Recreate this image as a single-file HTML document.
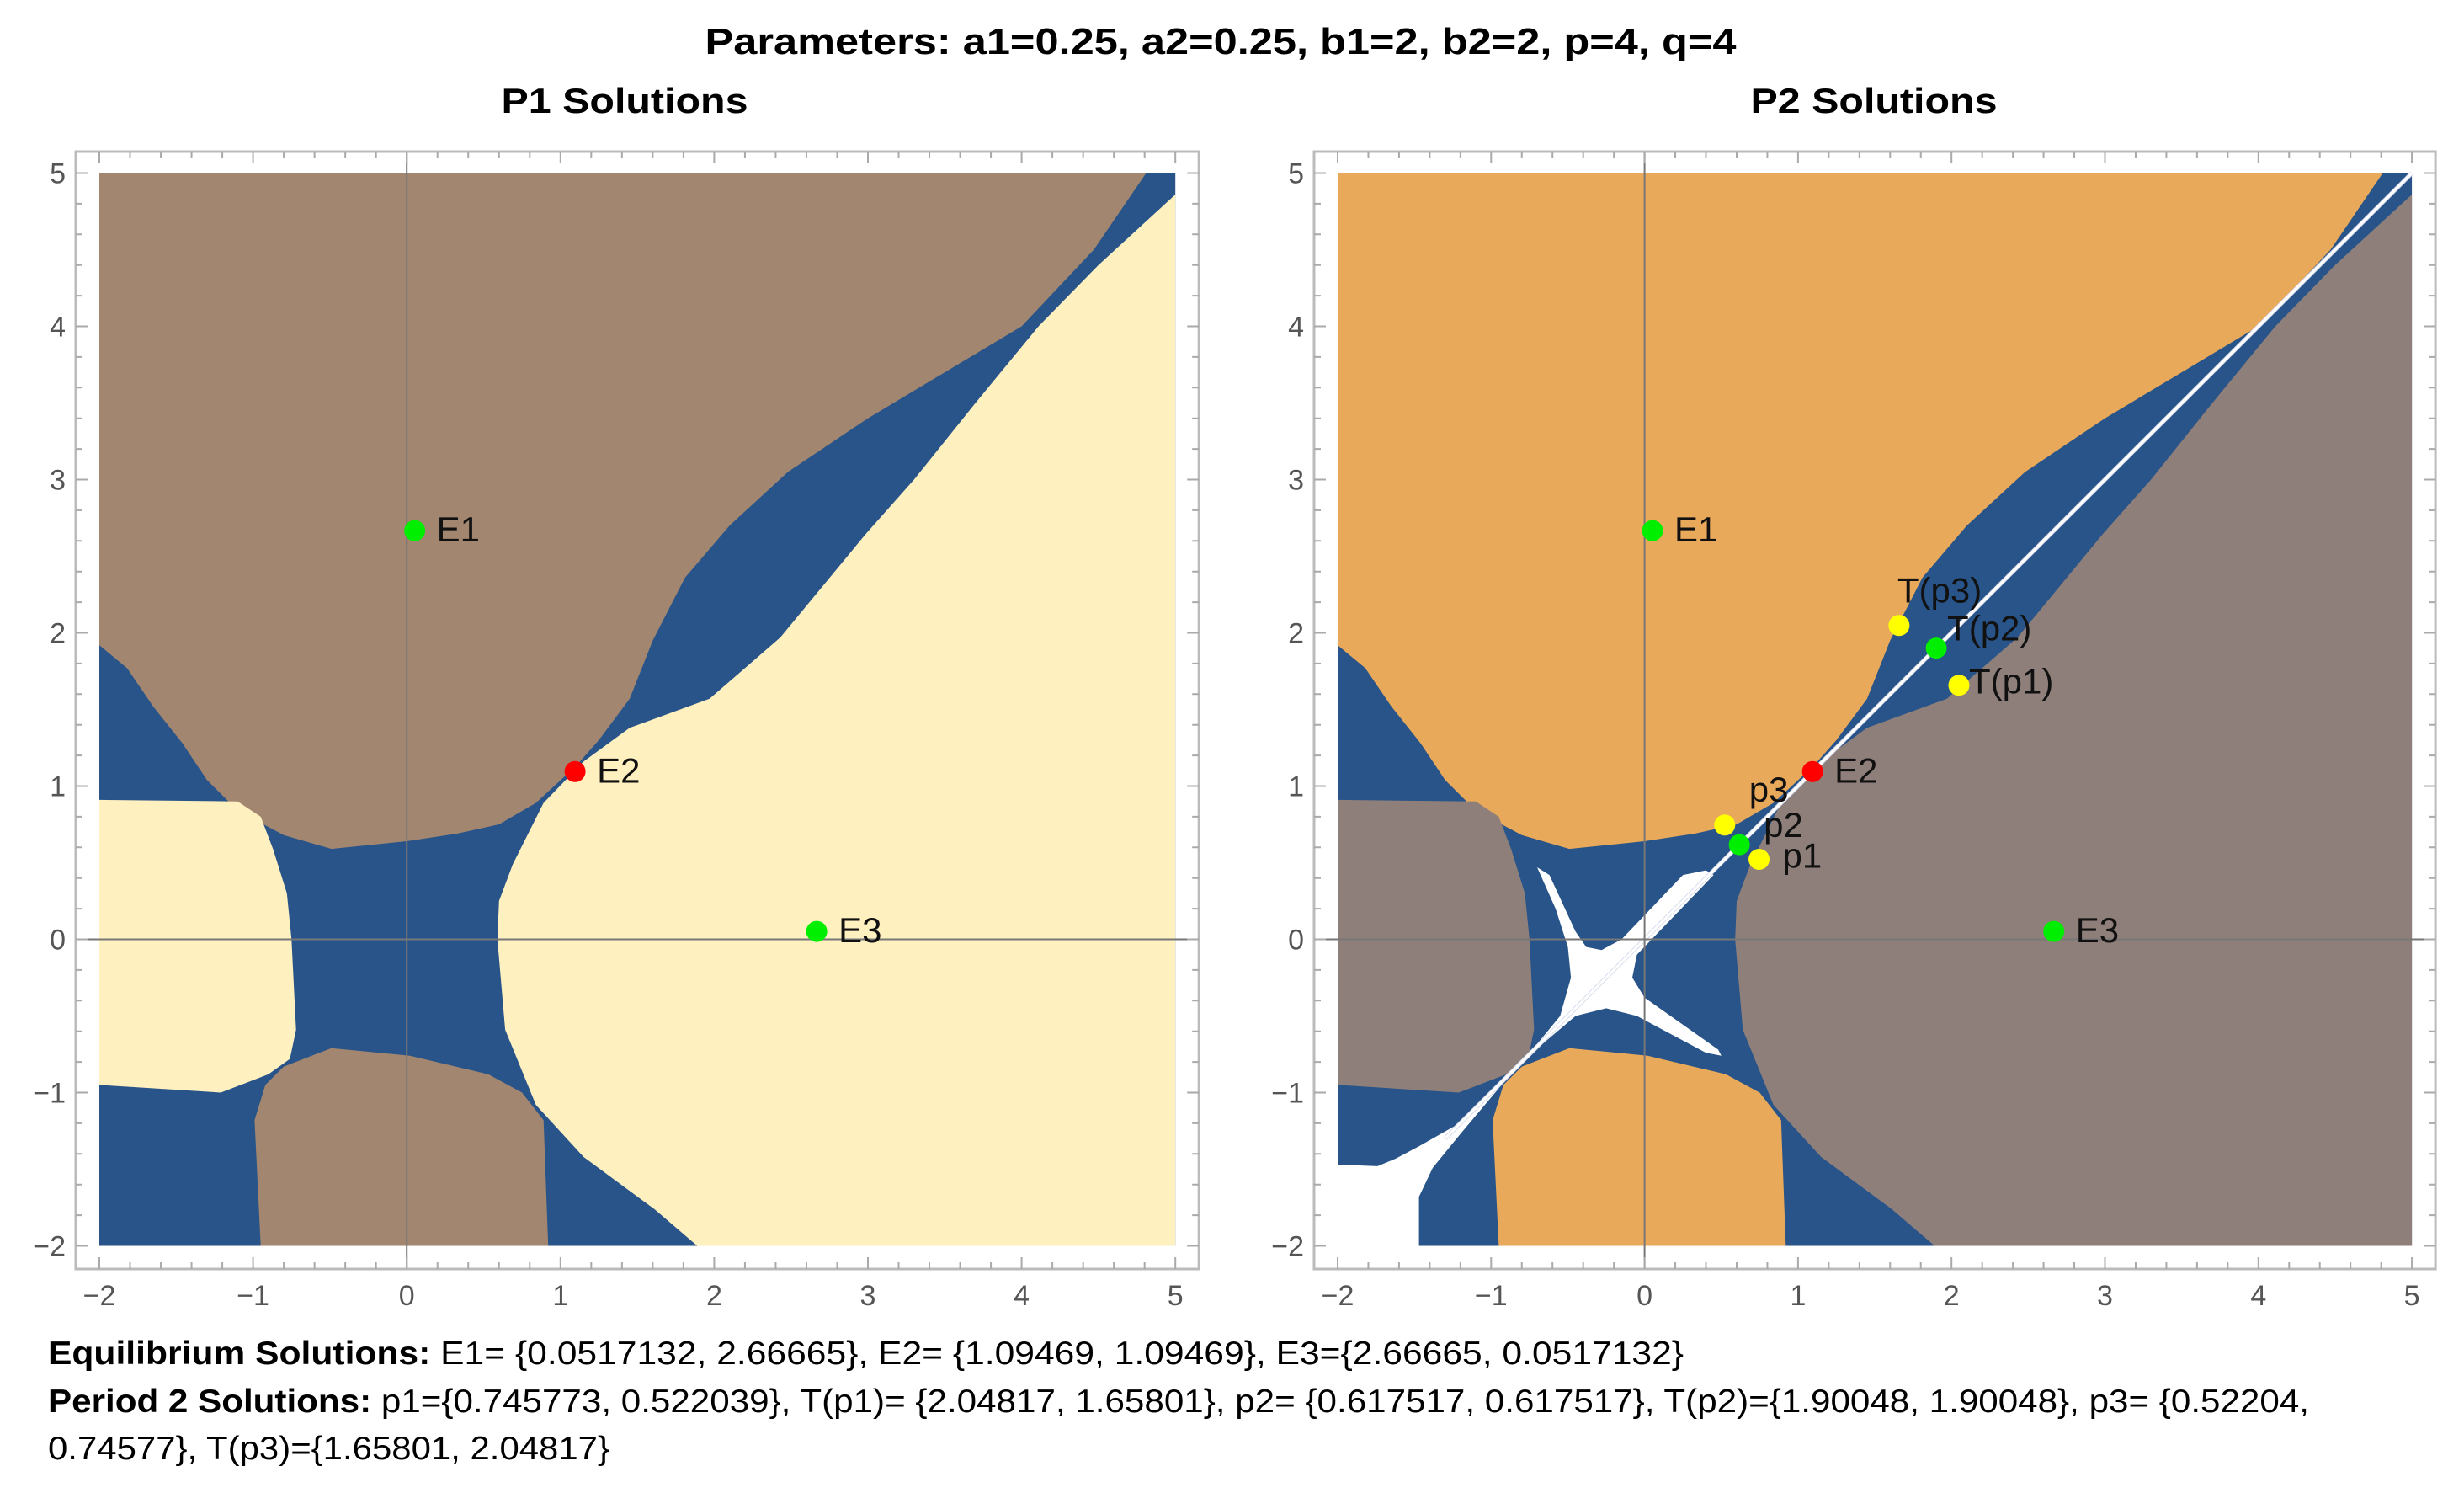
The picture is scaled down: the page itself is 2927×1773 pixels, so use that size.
<!DOCTYPE html>
<html><head><meta charset="utf-8">
<style>
html,body{margin:0;padding:0;background:#fff;}
svg{display:block;font-family:"Liberation Sans",sans-serif;}
</style></head>
<body>
<svg id="root" width="2927" height="1773" viewBox="0 0 2927 1773" xmlns="http://www.w3.org/2000/svg">
<rect width="2927" height="1773" fill="#fff"/>
<text x="1450" y="64" text-anchor="middle" font-size="44" font-weight="bold" textLength="1225" lengthAdjust="spacingAndGlyphs">Parameters: a1=0.25, a2=0.25, b1=2, b2=2, p=4, q=4</text>
<text x="742" y="134" text-anchor="middle" font-size="42" font-weight="bold" textLength="293" lengthAdjust="spacingAndGlyphs">P1 Solutions</text>
<text x="2226" y="134" text-anchor="middle" font-size="42" font-weight="bold" textLength="293" lengthAdjust="spacingAndGlyphs">P2 Solutions</text>
<g id="left"></g>
<g id="right"></g>
<text x="57" y="1620" font-size="39" textLength="1943" lengthAdjust="spacingAndGlyphs"><tspan font-weight="bold">Equilibrium Solutions:</tspan> E1= {0.0517132, 2.66665}, E2= {1.09469, 1.09469}, E3={2.66665, 0.0517132}</text>
<text x="57" y="1677" font-size="39" textLength="2686" lengthAdjust="spacingAndGlyphs"><tspan font-weight="bold">Period 2 Solutions:</tspan> p1={0.745773, 0.522039}, T(p1)= {2.04817, 1.65801}, p2= {0.617517, 0.617517}, T(p2)={1.90048, 1.90048}, p3= {0.52204,</text>
<text x="57" y="1733" font-size="39" textLength="667" lengthAdjust="spacingAndGlyphs">0.74577}, T(p3)={1.65801, 2.04817}</text>
</svg>
<script>
// equilibrium points
const eqNames = ["E1","E2","E3"];
const eqX = [0.0517132, 1.09469, 2.66665];
const eqY = [2.66665, 1.09469, 0.0517132];
const eqColors = ["#00ee00","#ff0000","#00ee00"];
// period-2 points
const perNames = ["p1","T(p1)","p2","T(p2)","p3","T(p3)"];
const perX = [0.745773, 2.04817, 0.617517, 1.90048, 0.52204, 1.65801];
const perY = [0.522039, 1.65801, 0.617517, 1.90048, 0.74577, 2.04817];
const perColors = ["#ffff00","#ffff00","#00ee00","#00ee00","#ffff00","#ffff00"];
const xTicks = [-2,-1,0,1,2,3,4,5];
const yTicks = [-2,-1,0,1,2,3,4,5];
// basin boundaries (data coords)
const upperX = [-2,-2,4.81,4.47,4.0,3.5,3.0,2.48,2.1,1.81,1.6,1.45,1.25,1.1,0.84,0.6,0.33,0.0,-0.49,-0.8,-1.1,-1.3,-1.46,-1.65,-1.82,-2];
const upperY = [1.92,5,5,4.5,4.0,3.7,3.4,3.05,2.7,2.36,1.95,1.57,1.3,1.13,0.89,0.75,0.69,0.64,0.59,0.68,0.84,1.04,1.28,1.52,1.77,1.92];
const rightX = [5,5,1.89,1.61,1.15,0.84,0.64,0.59,0.6,0.69,0.89,1.15,1.45,1.97,2.43,2.99,3.3,3.7,4.11,4.5,5];
const rightY = [4.86,-2,-2,-1.76,-1.42,-1.08,-0.59,0.0,0.25,0.49,0.89,1.16,1.38,1.57,1.97,2.65,3.0,3.5,4.0,4.4,4.86];
const leftX = [-2,-1.1,-0.95,-0.87,-0.78,-0.75,-0.72,-0.76,-0.9,-1.21,-2];
const leftY = [0.91,0.9,0.8,0.59,0.3,0,-0.59,-0.78,-0.88,-1.0,-0.95];
const bottomX = [-0.95,-0.99,-0.92,-0.8,-0.49,0.02,0.53,0.75,0.89,0.92];
const bottomY = [-2,-1.18,-0.95,-0.83,-0.71,-0.76,-0.88,-1.0,-1.18,-2];
const cornerX = [-2,-1.74,-1.62,-1.47,-1.24,-0.78,-1.2,-1.38,-1.47,-1.47,-2];
const cornerY = [-1.47,-1.48,-1.43,-1.35,-1.22,-0.77,-1.27,-1.49,-1.68,-2,-2];
const crossX = [-0.70,-0.62,-0.45,-0.38,-0.28,-0.15,0.25,0.40,0.45,-0.05,-0.08,0.0,0.48,0.50,0.40,-0.05,-0.25,-0.45,-0.78,-0.55,-0.48,-0.50,-0.58];
const crossY = [0.47,0.42,0.05,-0.05,-0.07,0.0,0.42,0.45,0.42,-0.10,-0.25,-0.38,-0.72,-0.76,-0.74,-0.50,-0.45,-0.50,-0.78,-0.50,-0.25,-0.05,0.20];

const NS = "http://www.w3.org/2000/svg";
function mk(tag, attrs, parent){const e=document.createElementNS(NS,tag);for(const k in attrs)e.setAttribute(k,attrs[k]);parent.appendChild(e);return e;}

function drawPlot(g, X0, ux, colors, isP2){
  const Y0 = 205.5, uy = 182;
  const sx = v => X0 + (v+2)*ux;
  const sy = v => Y0 + (5-v)*uy;
  const poly = (xs, ys) => xs.map((v,i)=>(i?"L":"M")+sx(v).toFixed(1)+","+sy(ys[i]).toFixed(1)).join("")+"Z";
  const fx = X0 - 28, fr = sx(5) + 28, ft = 180, fb = 1507;
  const bg = mk("rect",{x:sx(-2),y:sy(5),width:sx(5)-sx(-2),height:sy(-2)-sy(5),fill:"#285489"},g);
  
  
  const regs = [[upperX,upperY,colors[0],'basin-upper'],[rightX,rightY,colors[1],'basin-right'],[leftX,leftY,colors[1],'basin-left'],[bottomX,bottomY,colors[0],'basin-bottom']];
  regs.forEach(r=>{
    const p = mk("path",{d:poly(r[0],r[1]),fill:r[2],"stroke-linejoin":"round"},g);
    
    
  });
  if(isP2){
    const c = mk("path",{d:poly(cornerX,cornerY),fill:"#fff"},g);
    
    
    const x = mk("path",{d:poly(crossX,crossY),fill:"#fff"},g);
    
    
    const d = mk("line",{x1:sx(-1.3),y1:sy(-1.3),x2:sx(5),y2:sy(5),stroke:"#d8dcec","stroke-width":5},g);
    
    
    const d2 = mk("line",{x1:sx(-1.3),y1:sy(-1.3),x2:sx(5),y2:sy(5),stroke:"#fff","stroke-width":3},g);
    
    
  }
  const ax = mk("line",{x1:fx,y1:sy(0),x2:fr,y2:sy(0),stroke:"#777","stroke-width":2},g);
  
  
  const ay = mk("line",{x1:sx(0),y1:ft,x2:sx(0),y2:fb,stroke:"#777","stroke-width":2},g);
  
  
  const fr1 = mk("rect",{x:fx,y:ft,width:fr-fx,height:fb-ft,fill:"none",stroke:"#bbb","stroke-width":3},g);
  
  
  let td = "";
  for(let i=-10;i<=25;i++){
    const v=i/5, major=(i%5===0), L=major?14:8;
    const px=sx(v), py=sy(v);
    td += `M${px},${fb}v${-L}M${px},${ft}v${L}M${fx},${py}h${L}M${fr},${py}h${-L}`;
  }
  const tk = mk("path",{d:td,stroke:"#aaa","stroke-width":2,fill:"none"},g);
  
  
  xTicks.forEach(v=>{
    const t = mk("text",{x:sx(v),y:1550,"text-anchor":"middle","font-size":34,fill:"#555"},g);
    t.textContent = v<0 ? "\u2212"+(-v) : String(v);
    
    
  });
  yTicks.forEach(v=>{
    const t = mk("text",{x:fx-12,y:sy(v)+12,"text-anchor":"end","font-size":34,fill:"#555"},g);
    t.textContent = v<0 ? "\u2212"+(-v) : String(v);
    
    
  });
  const pts = [];
  eqNames.forEach((n,i)=>pts.push([n,eqX[i],eqY[i],eqColors[i],26,13]));
  if(isP2){
    const off = {"p1":[28,10],"T(p1)":[12,10],"p2":[29,-9],"T(p2)":[13,-9],"p3":[29,-28],"T(p3)":[-2,-27]};
    perNames.forEach((n,i)=>pts.push([n,perX[i],perY[i],perColors[i],off[n][0],off[n][1]]));
  }
  pts.forEach(p=>{
    const c = mk("circle",{cx:sx(p[1]),cy:sy(p[2]),r:12.5,fill:p[3]},g);
    
    
    const t = mk("text",{x:sx(p[1])+p[4],y:sy(p[2])+p[5],"font-size":42,fill:"#111"},g);
    t.textContent = p[0];
    
    
  });
}
drawPlot(document.getElementById("left"), 118, 182.6, ["#a2866f","#fff0c0"], false);
drawPlot(document.getElementById("right"), 1589, 182.3, ["#e8a95b","#8e7f7a"], true);
</script>
</body></html>
